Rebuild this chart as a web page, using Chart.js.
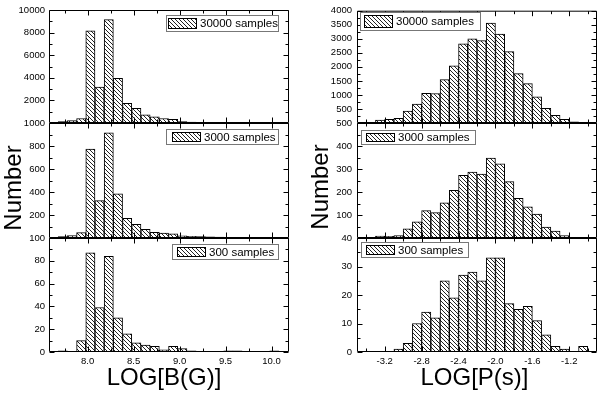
<!DOCTYPE html>
<html>
<head>
<meta charset="utf-8">
<script src="https://cdn.jsdelivr.net/npm/chart.js"></script>
<style>
  body { margin: 0; background: #fff; }
  #wrap { position: relative; width: 600px; height: 397px; overflow: hidden; }
  #wrap canvas { position: absolute; top: 0; }
</style>
</head>
<body>
<div id="wrap">
  <canvas id="b30000" width="300" height="397" style="left:0"></canvas>
  <canvas id="b3000" width="300" height="397" style="left:0"></canvas>
  <canvas id="b300" width="300" height="397" style="left:0"></canvas>
  <canvas id="p30000" width="300" height="397" style="left:300px"></canvas>
  <canvas id="p3000" width="300" height="397" style="left:300px"></canvas>
  <canvas id="p300" width="300" height="397" style="left:300px"></canvas>
</div>
<script>
// left column: LOG[B(G)], bin centres
const binsB = [7.73, 7.83, 7.93, 8.03, 8.13, 8.23, 8.33, 8.43, 8.53, 8.63, 8.73, 8.83,
               8.93, 9.03, 9.13, 9.23, 9.33, 9.43, 9.53, 9.63, 9.73, 9.83, 9.93, 10.03];
const countsB30000 = [130, 220, 400, 8150, 3170, 9150, 3960, 1740, 1300, 730, 550, 400,
                      320, 120, 90, 70, 50, 40, 30, 25, 20, 15, 12, 10];
const countsB3000 = [12, 20, 47, 773, 325, 915, 384, 172, 119, 76, 50, 42,
                     36, 18, 15, 12, 10, 9, 6, 5, 4, 3, 3, 2];
const countsB300 = [1, 0, 10, 87, 39, 84, 30, 16, 8, 6, 5, 2,
                    5, 3, 1, 0, 0, 0, 1, 1, 0, 0, 0, 1];

// right column: LOG[P(s)], bin centres
const binsP = [-3.25, -3.15, -3.05, -2.95, -2.85, -2.75, -2.65, -2.55, -2.45, -2.35, -2.25, -2.15,
               -2.05, -1.95, -1.85, -1.75, -1.65, -1.55, -1.45, -1.35, -1.25, -1.15, -1.05];
const countsP30000 = [100, 130, 165, 424, 672, 1060, 1050, 1545, 2040, 2817, 2994, 2934,
                      3558, 3170, 2545, 1757, 1403, 930, 520, 272, 130, 46, 0];
const countsP3000 = [8, 7, 10, 40, 70, 119, 110, 153, 207, 272, 287, 278,
                     348, 322, 245, 172, 136, 104, 48, 30, 10, 3, 2];
const countsP300 = [0, 0, 1, 3, 10, 14, 12, 25, 19, 27, 28, 25,
                    33, 33, 17, 15, 16, 11, 6, 2, 1, 0, 2];

// ticks
const xTicksB = [8.0, 8.5, 9.0, 9.5, 10.0];
const xMinorB = [7.75, 8.25, 8.75, 9.25, 9.75];
const xTicksP = [-3.2, -2.8, -2.4, -2.0, -1.6, -1.2];
const xMinorP = [-3.4, -3.0, -2.6, -2.2, -1.8, -1.4, -1.0];
const yTicksB30000 = [2000, 4000, 6000, 8000, 10000];
const yTicksB3000 = [200, 400, 600, 800, 1000];
const yTicksB300 = [0, 20, 40, 60, 80, 100];
const yTicksP30000 = [500, 1000, 1500, 2000, 2500, 3000, 3500, 4000];
const yTicksP3000 = [100, 200, 300, 400, 500];
const yTicksP300 = [0, 10, 20, 30, 40];

const FONT = '"Liberation Sans", Arial, sans-serif';
Chart.defaults.font.family = FONT;
Chart.defaults.color = '#000';

function makeHatch() {
  const c = document.createElement('canvas');
  c.width = 4; c.height = 4;
  const g = c.getContext('2d');
  g.fillStyle = '#fff';
  g.fillRect(0, 0, 4, 4);
  g.fillStyle = '#222';
  for (let i = 0; i < 4; i++) g.fillRect(i, i, 1, 1);
  return g.createPattern(c, 'repeat');
}
const hatch = makeHatch();

// box around the plot with inward ticks on all four sides
const framePlugin = {
  id: 'frame',
  afterDatasetsDraw(chart, args, o) {
    const { ctx, chartArea: a, scales: { x, y } } = chart;
    const L = a.left + 0.5, R = a.right - 0.5, T = a.top + 0.5, B = a.bottom - 0.5;
    ctx.save();
    ctx.strokeStyle = '#000';
    ctx.lineWidth = 1;
    ctx.beginPath();
    ctx.rect(L, T, R - L, B - T);
    const xm = (v, len) => {
      const p = Math.round(x.getPixelForValue(v)) + 0.5;
      ctx.moveTo(p, B); ctx.lineTo(p, B - len);
      ctx.moveTo(p, T); ctx.lineTo(p, T + len);
    };
    const ym = (v, len) => {
      const p = Math.round(y.getPixelForValue(v)) + 0.5;
      ctx.moveTo(L, p); ctx.lineTo(L + len, p);
      ctx.moveTo(R, p); ctx.lineTo(R - len, p);
    };
    o.xMajor.forEach(v => xm(v, 5));
    o.xMinor.forEach(v => xm(v, 3));
    const ys = [0].concat(o.yMajor.filter(v => v > 0));
    ys.forEach(v => ym(v, 5));
    for (let i = 1; i < ys.length; i++) ym((ys[i - 1] + ys[i]) / 2, 3);
    ctx.stroke();
    ctx.restore();
  }
};

// framed legend with a hatched swatch
const legendPlugin = {
  id: 'boxLegend',
  afterDraw(chart, args, o) {
    if (!o.text) return;
    const ctx = chart.ctx;
    ctx.save();
    ctx.fillStyle = '#fff';
    ctx.fillRect(o.x, o.y, o.w, o.h);
    ctx.strokeStyle = '#777';
    ctx.lineWidth = 1;
    ctx.strokeRect(o.x + 0.5, o.y + 0.5, o.w, o.h);
    const sx = o.x + o.sx, sy = o.y + 3, sh = o.h - 5;
    ctx.fillStyle = hatch;
    ctx.fillRect(sx, sy, 29, sh);
    ctx.strokeStyle = '#000';
    ctx.strokeRect(sx + 0.5, sy + 0.5, 28, sh - 1);
    ctx.fillStyle = '#000';
    ctx.font = '11.5px ' + FONT;
    ctx.textBaseline = 'middle';
    ctx.textAlign = 'left';
    ctx.fillText(o.text, sx + 32, o.y + o.h / 2 + 1);
    ctx.restore();
  }
};

// big axis titles
const titlePlugin = {
  id: 'bigTitles',
  afterDraw(chart, args, o) {
    if (!o.items) return;
    const ctx = chart.ctx;
    ctx.save();
    ctx.fillStyle = '#000';
    ctx.font = '24px ' + FONT;
    ctx.textAlign = 'center';
    ctx.textBaseline = 'middle';
    o.items.forEach(t => {
      ctx.save();
      ctx.translate(t.x, t.y);
      if (t.rot) ctx.rotate(t.rot);
      ctx.fillText(t.text, 0, 0);
      ctx.restore();
    });
    ctx.restore();
  }
};

function panel(id, o) {
  return new Chart(document.getElementById(id), {
    type: 'bar',
    data: {
      datasets: [{
        data: o.bins.map((b, i) => ({ x: b, y: o.counts[i] })),
        backgroundColor: hatch,
        borderColor: '#000',
        borderWidth: 1,
        borderSkipped: false,
        barPercentage: 1,
        categoryPercentage: 1
      }]
    },
    options: {
      responsive: false,
      animation: false,
      events: [],
      layout: { padding: { left: 0, right: o.padRight, top: o.top, bottom: 397 - o.bottom - (o.showX ? 20 : 0) } },
      plugins: {
        legend: { display: false },
        tooltip: { enabled: false },
        frame: { xMajor: o.xTicks, xMinor: o.xMinor, yMajor: o.yTicks },
        boxLegend: o.legend,
        bigTitles: { items: o.titles }
      },
      scales: {
        x: {
          type: 'linear', min: o.xMin, max: o.xMax, offset: false,
          display: o.showX,
          grid: { display: false, drawTicks: false },
          border: { display: false },
          ticks: { font: { size: 9.5 }, padding: 4, autoSkip: false, maxRotation: 0, callback: v => v.toFixed(1) },
          afterBuildTicks: s => { s.ticks = o.xTicks.map(v => ({ value: v })); },
          afterFit: s => { s.height = o.showX ? 20 : 0; }
        },
        y: {
          min: 0, max: o.yMax,
          grid: { display: false, drawTicks: false },
          border: { display: false },
          ticks: { font: { size: 9.5 }, padding: o.yPad, autoSkip: false, callback: v => String(v) },
          afterBuildTicks: s => { s.ticks = o.yTicks.map(v => ({ value: v })); },
          afterFit: s => { s.width = o.yWidth; }
        }
      }
    },
    plugins: [framePlugin, legendPlugin, titlePlugin]
  });
}

const leftCol = { bins: binsB, xMin: 7.58, xMax: 10.19, xTicks: xTicksB, xMinor: xMinorB, padRight: 11, yWidth: 49, yPad: 4 };
const rightCol = { bins: binsP, xMin: -3.5, xMax: -0.9, xTicks: xTicksP, xMinor: xMinorP, padRight: 3, yWidth: 57, yPad: 5 };

panel('b30000', Object.assign({}, leftCol, {
  counts: countsB30000, yMax: 10000, yTicks: yTicksB30000, top: 10, bottom: 123, showX: false,
  legend: { text: '30000 samples', x: 166, y: 15, w: 112, h: 16, sx: 2 }
}));
panel('b3000', Object.assign({}, leftCol, {
  counts: countsB3000, yMax: 1000, yTicks: yTicksB3000, top: 123, bottom: 238, showX: false,
  legend: { text: '3000 samples', x: 166, y: 129, w: 112, h: 15, sx: 6 },
  titles: [{ text: 'Number', x: 14.5, y: 188, rot: -Math.PI / 2 }]
}));
panel('b300', Object.assign({}, leftCol, {
  counts: countsB300, yMax: 100, yTicks: yTicksB300, top: 238, bottom: 352, showX: true,
  legend: { text: '300 samples', x: 172, y: 244, w: 106, h: 15, sx: 5 },
  titles: [{ text: 'LOG[B(G)]', x: 164, y: 378 }]
}));

panel('p30000', Object.assign({}, rightCol, {
  counts: countsP30000, yMax: 4000, yTicks: yTicksP30000, top: 10, bottom: 123, showX: false,
  legend: { text: '30000 samples', x: 60, y: 12, w: 120, h: 18, sx: 4 }
}));
panel('p3000', Object.assign({}, rightCol, {
  counts: countsP3000, yMax: 500, yTicks: yTicksP3000, top: 123, bottom: 238, showX: false,
  legend: { text: '3000 samples', x: 61, y: 130, w: 114, h: 14, sx: 5 },
  titles: [{ text: 'Number', x: 21.5, y: 187, rot: -Math.PI / 2 }]
}));
panel('p300', Object.assign({}, rightCol, {
  counts: countsP300, yMax: 40, yTicks: yTicksP300, top: 238, bottom: 352, showX: true,
  legend: { text: '300 samples', x: 61, y: 242, w: 107, h: 15, sx: 5 },
  titles: [{ text: 'LOG[P(s)]', x: 174.5, y: 378 }]
}));
</script>
</body>
</html>
